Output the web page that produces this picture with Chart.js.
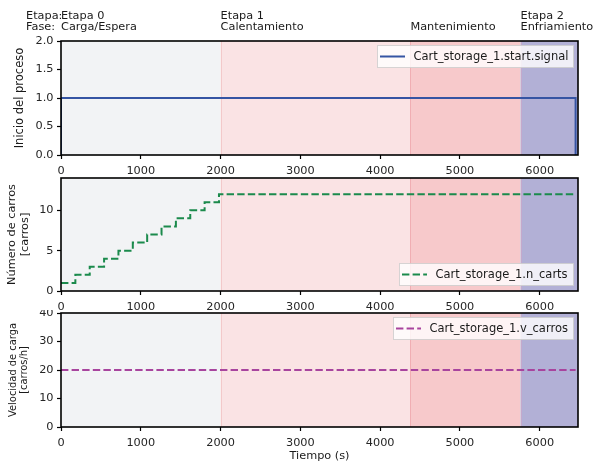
<!DOCTYPE html>
<html><head><meta charset="utf-8">
<script src="https://cdn.jsdelivr.net/npm/chart.js@4/dist/chart.umd.min.js"></script>
<style>
html,body{margin:0;padding:0;background:#fff;}
#wrap{position:relative;width:597px;height:465px;background:#fff;}
canvas{position:absolute;left:0;}
</style></head><body>
<div id="wrap">
<canvas id="c3" width="597" height="155" style="top:310px;z-index:1"></canvas>
<canvas id="c2" width="597" height="140" style="top:175px;z-index:2"></canvas>
<canvas id="c1" width="597" height="178" style="top:0px;z-index:3"></canvas>
</div>
<script>
// ---- data ----
const xMax = 6480;
const xTicks = [0, 1000, 2000, 3000, 4000, 5000, 6000];
const phaseStart = [0, 2000, 4380, 5760];
const phaseEnd = [2000, 4380, 5760, 6480];
const stageNames = ['Etapa 0', 'Etapa 1', '', 'Etapa 2'];
const phaseNames = ['Carga/Espera', 'Calentamiento', 'Mantenimiento', 'Enfriamiento'];
const signalTime = [0, 0, 6450, 6450];
const signalValue = [0, 1, 1, 0];
const cartTime = [0, 180, 360, 540, 720, 900, 1080, 1260, 1440, 1620, 1800, 1980, 6450];
const cartCount = [1, 2, 3, 4, 5, 6, 7, 8, 9, 10, 11, 12, 12];
const speedTime = [0, 6450];
const speedValue = [20, 20];
const signalTicks = [0, 0.5, 1, 1.5, 2];
const cartTicks = [0, 5, 10];
const speedTicks = [0, 10, 20, 30, 40];

// ---- styles ----
const phaseColors = ['#f2f3f5', '#fae3e4', '#f7c9cb', '#b2b0d6'];
const phaseEdges = ['rgba(0,0,0,0)', '#f3c9ca', '#f0aeb3', '#c4a9cc'];
const FONT = "'DejaVu Sans', sans-serif";
const FS = 11.3;
Chart.defaults.font.family = FONT;
Chart.defaults.font.size = FS;
Chart.defaults.color = '#262626';
Chart.defaults.animation = false;

const pts = (xs, ys) => xs.map((x, i) => ({x: x, y: ys[i]}));

const bandPlugin = {
  id: 'bands',
  beforeDatasetsDraw(chart) {
    const {ctx, chartArea: a, scales: {x}} = chart;
    ctx.save();
    for (let i = 0; i < phaseStart.length; i++) {
      const x0 = x.getPixelForValue(phaseStart[i]);
      const x1 = x.getPixelForValue(phaseEnd[i]);
      ctx.fillStyle = phaseColors[i];
      ctx.fillRect(x0, a.top, x1 - x0, a.bottom - a.top);
    }
    for (let i = 1; i < phaseStart.length; i++) {
      const x0 = Math.round(x.getPixelForValue(phaseStart[i])) + 0.5;
      ctx.strokeStyle = phaseEdges[i];
      ctx.lineWidth = 1;
      ctx.beginPath(); ctx.moveTo(x0, a.top); ctx.lineTo(x0, a.bottom); ctx.stroke();
    }
    ctx.restore();
  }
};

function legendPlugin(pos) {
  return {
    id: 'boxlegend',
    afterDraw(chart) {
      const {ctx, chartArea: a} = chart;
      ctx.save();
      ctx.strokeStyle = '#000';
      ctx.lineWidth = 1.6;
      ctx.strokeRect(a.left, a.top, a.right - a.left, a.bottom - a.top);
      const ds = chart.data.datasets[0];
      ctx.font = '11.5px ' + FONT;
      const tw = ctx.measureText(ds.label).width;
      const w = Math.round(3 + 25 + 8.5 + tw + 5), h = 22;
      const right = Math.round(a.right - 5.5);
      const left = right - w;
      const top = Math.round(pos === 'bottom' ? a.bottom - 6 - h : a.top + 4);
      ctx.fillStyle = 'rgba(255,255,255,0.8)';
      ctx.strokeStyle = 'rgba(204,204,204,0.8)';
      ctx.lineWidth = 1;
      ctx.fillRect(left + 0.5, top + 0.5, w, h);
      ctx.strokeRect(left + 0.5, top + 0.5, w, h);
      const cy = top + h / 2 + 0.5;
      ctx.strokeStyle = ds.borderColor;
      ctx.lineWidth = ds.borderWidth;
      ctx.setLineDash(ds.borderDash ? ds.borderDash : []);
      ctx.beginPath();
      ctx.moveTo(left + 3, cy); ctx.lineTo(left + 28, cy); ctx.stroke();
      ctx.setLineDash([]);
      ctx.fillStyle = '#1a1a1a';
      ctx.textBaseline = 'middle';
      ctx.textAlign = 'left';
      ctx.fillText(ds.label, left + 3 + 25 + 8.5, cy + 0.5);
      ctx.restore();
    }
  };
}

const headerPlugin = {
  id: 'header',
  afterDraw(chart) {
    const {ctx, scales: {x}} = chart;
    ctx.save();
    ctx.font = FS + 'px ' + FONT;
    ctx.fillStyle = '#1a1a1a';
    ctx.textBaseline = 'alphabetic';
    ctx.textAlign = 'left';
    ctx.fillText('Etapa:', 26, 19);
    ctx.fillText('Fase:', 26, 29.5);
    for (let i = 0; i < phaseStart.length; i++) {
      const px = x.getPixelForValue(phaseStart[i]);
      if (stageNames[i]) ctx.fillText(stageNames[i], px, 19);
      ctx.fillText(phaseNames[i], px, 29.5);
    }
    ctx.restore();
  }
};

function zeroPad(s) { s.paddingTop = 0; s.paddingBottom = 0; s.paddingLeft = 0; s.paddingRight = 0; }

function xScale(h, title) {
  return {
    type: 'linear', min: 0, max: xMax,
    afterBuildTicks: s => { s.ticks = xTicks.map(v => ({value: v})); },
    afterFit: s => { s.height = h; zeroPad(s); },
    grid: {display: true, drawOnChartArea: false, drawTicks: true, tickLength: 4, tickWidth: 1.2, tickColor: '#000'},
    border: {display: false},
    ticks: {padding: 5, maxRotation: 0, autoSkip: false, color: '#262626', callback: v => String(v)},
    title: title ? {display: true, text: title, font: {size: FS}, color: '#1a1a1a', padding: {top: 0, bottom: 2.5}} : {display: false}
  };
}
function yScale(min, max, ticks, title, tsize, lh, tpad, fmt) {
  return {
    type: 'linear', min: min, max: max,
    afterBuildTicks: s => { s.ticks = ticks.map(v => ({value: v})); },
    afterFit: s => { s.width = 61; zeroPad(s); },
    grid: {display: true, drawOnChartArea: false, drawTicks: true, tickLength: 4, tickWidth: 1.2, tickColor: '#000'},
    border: {display: false},
    ticks: {padding: 3.5, autoSkip: false, color: '#262626', callback: fmt || (v => String(v))},
    title: {display: true, text: title, font: {size: tsize, lineHeight: lh}, color: '#1a1a1a', padding: {top: tpad, bottom: 0}}
  };
}

function make(id, ds, y, xh, xtitle, padTop, legendPos, extraPlugins) {
  return new Chart(document.getElementById(id), {
    type: 'line',
    data: {datasets: [ds]},
    options: {
      responsive: false,
      layout: {padding: {top: padTop, right: 19, left: 0, bottom: 0}},
      plugins: {legend: {display: false}, tooltip: {enabled: false}},
      scales: {x: xScale(xh, xtitle), y: y},
      elements: {point: {radius: 0}}
    },
    plugins: [bandPlugin, legendPlugin(legendPos)].concat(extraPlugins || [])
  });
}

make('c1', {
  label: 'Cart_storage_1.start.signal',
  data: pts(signalTime, signalValue),
  borderColor: '#3554a3', borderWidth: 2
}, yScale(0, 2, signalTicks, 'Inicio del proceso', 11.5, 1.2, 13, v => v.toFixed(1)), 23, null, 41, 'top', [headerPlugin]);

make('c2', {
  label: 'Cart_storage_1.n_carts',
  data: pts(cartTime, cartCount),
  borderColor: '#1b8a4c', borderWidth: 2, borderDash: [7.4, 3.2], stepped: 'before'
}, yScale(0, 14, cartTicks, ['Número de carros', '[carros]'], 11.3, 1.1, 6.3), 24, null, 3, 'bottom');

make('c3', {
  label: 'Cart_storage_1.v_carros',
  data: pts(speedTime, speedValue),
  borderColor: '#a8449e', borderWidth: 2, borderDash: [7.4, 3.2]
}, yScale(0, 40, speedTicks, ['Velocidad de carga', '[carros/h]'], 9.9, 1.16, 7.25), 38, 'Tiempo (s)', 3, 'top');
</script>
</body></html>
